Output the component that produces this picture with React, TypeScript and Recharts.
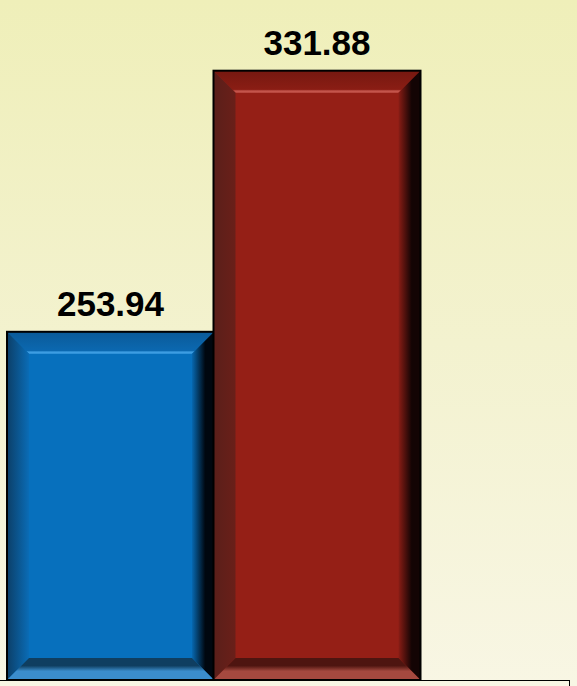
import React from "react";
import { BarChart, Bar, XAxis, YAxis, LabelList, Cell } from "recharts";

const categories = ["A", "B"];
const values = [253.94, 331.88];
const labels = ["253.94", "331.88"];
const yDomain = [150, 350];

const palettes = [
  {
    main: "#0770BD",
    topOuter: "#0a5a98",
    topInner: "#0b68b0",
    highlight: "#3d9de2",
    leftOuter: "#0c3f68",
    leftInner: "#0a6cb6",
    rightInner: "#0768b0",
    rightOuter: "#00070f",
    bottomDark: "#0f3e60",
    bottomLight: "#3b8dcc",
  },
  {
    main: "#951F16",
    topOuter: "#761810",
    topInner: "#8a1d14",
    highlight: "#c4544b",
    leftOuter: "#5a1f1a",
    leftInner: "#6a1f19",
    rightInner: "#8a1d15",
    rightOuter: "#130404",
    bottomDark: "#4e1510",
    bottomLight: "#a5493f",
  },
];

const data = categories.map((c, i) => ({ name: c, value: values[i], label: labels[i] }));

const BevelBar = (props: any) => {
  const { x, y, width: w, height: h, index } = props;
  if (w == null || h == null || h <= 0) return null;
  const p = palettes[index % palettes.length];
  const b = 22;
  const id = `bv${index}`;
  return (
    <g>
      <defs>
        <linearGradient id={`${id}t`} x1="0" y1="0" x2="0" y2="1">
          <stop offset="0" stopColor={p.topOuter} />
          <stop offset="0.85" stopColor={p.topInner} />
          <stop offset="0.92" stopColor={p.highlight} />
          <stop offset="1" stopColor={p.highlight} />
        </linearGradient>
        <linearGradient id={`${id}l`} x1="0" y1="0" x2="1" y2="0">
          <stop offset="0" stopColor={p.leftOuter} />
          <stop offset="1" stopColor={p.leftInner} />
        </linearGradient>
        <linearGradient id={`${id}r`} x1="0" y1="0" x2="1" y2="0">
          <stop offset="0" stopColor={p.rightInner} />
          <stop offset="0.6" stopColor={p.rightOuter} />
          <stop offset="1" stopColor={p.rightOuter} />
        </linearGradient>
        <linearGradient id={`${id}b`} x1="0" y1="0" x2="0" y2="1">
          <stop offset="0" stopColor={p.bottomDark} />
          <stop offset="0.35" stopColor={p.bottomDark} />
          <stop offset="0.6" stopColor={p.bottomLight} />
          <stop offset="1" stopColor={p.bottomLight} />
        </linearGradient>
      </defs>
      <rect x={x} y={y} width={w} height={h} fill={p.main} />
      <polygon
        points={`${x},${y} ${x + w},${y} ${x + w - b},${y + b} ${x + b},${y + b}`}
        fill={`url(#${id}t)`}
      />
      <polygon
        points={`${x},${y} ${x + b},${y + b} ${x + b},${y + h - b} ${x},${y + h}`}
        fill={`url(#${id}l)`}
      />
      <polygon
        points={`${x + w},${y} ${x + w},${y + h} ${x + w - b},${y + h - b} ${x + w - b},${y + b}`}
        fill={`url(#${id}r)`}
      />
      <polygon
        points={`${x},${y + h} ${x + b},${y + h - b} ${x + w - b},${y + h - b} ${x + w},${y + h}`}
        fill={`url(#${id}b)`}
      />
      <rect x={x} y={y} width={w} height={h} fill="none" stroke="#000" strokeWidth={2} />
    </g>
  );
};

export default function App() {
  return (
    <div
      style={{
        position: "absolute",
        left: 0,
        top: 0,
        width: 577,
        height: 686,
        overflow: "hidden",
        background: "linear-gradient(to bottom, #EFEFB9 0%, #F3F2CF 50%, #F8F6E4 100%)",
      }}
    >
      <BarChart
        width={577}
        height={686}
        data={data}
        margin={{ top: 10, right: 157, bottom: 6, left: 7 }}
        barCategoryGap={0}
        barGap={0}
      >
        <XAxis dataKey="name" hide />
        <YAxis domain={yDomain} hide allowDataOverflow />
        <Bar dataKey="value" isAnimationActive={false} shape={<BevelBar />}>
          {data.map((d, i) => (
            <Cell key={d.name} fill={palettes[i].main} />
          ))}
          <LabelList
            dataKey="label"
            position="top"
            offset={16}
            fill="#000"
            style={{ fontSize: 35, fontWeight: "bold", fontFamily: "'Liberation Sans', Arial, sans-serif" }}
          />
        </Bar>
      </BarChart>
      <div
        style={{
          position: "absolute",
          left: -2,
          top: 680,
          width: 572,
          height: 20,
          border: "1.5px solid #000",
          boxSizing: "border-box",
        }}
      />
    </div>
  );
}
